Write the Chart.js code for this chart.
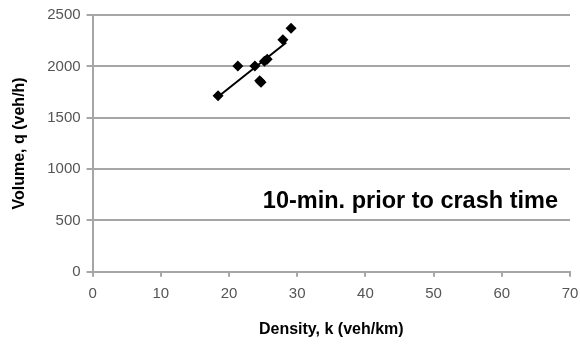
<!DOCTYPE html>
<html>
<head>
<meta charset="utf-8">
<script src="https://cdn.jsdelivr.net/npm/chart.js@4"></script>
<style>
  body { margin: 0; background: #fff; }
  #wrap { width: 580px; height: 347px; }
</style>
</head>
<body>
<div id="wrap"><canvas id="scatterChart" width="580" height="347"></canvas></div>
<script>
// observed points, density k (veh/km) vs volume q (veh/h)
const densityK = [18.4, 21.3, 23.8, 24.5, 24.7, 25.2, 25.6, 27.9, 29.1];
const volumeQ = [1715, 2003, 2003, 1860, 1845, 2050, 2070, 2260, 2370];

// linear trend line end points
const trendK = [18.4, 28.4];
const trendQ = [1705, 2232];

const xTicks = [0, 10, 20, 30, 40, 50, 60, 70];
const yTicks = [0, 500, 1000, 1500, 2000, 2500];

const noteText = "10-min. prior to crash time";

const notePlugin = {
  id: "note",
  afterDraw(chart) {
    const ctx = chart.ctx;
    const x = chart.scales.x.getPixelForValue(46.6);
    const y = chart.scales.y.getPixelForValue(680);
    ctx.save();
    ctx.font = "bold 23.5px 'Liberation Sans', Arial, sans-serif";
    ctx.fillStyle = "#000";
    ctx.textAlign = "center";
    ctx.textBaseline = "middle";
    ctx.fillText(noteText, x, y);
    ctx.restore();
  },
};

const ctx = document.getElementById("scatterChart").getContext("2d");
new Chart(ctx, {
  type: "scatter",
  data: {
    datasets: [
      {
        label: "Observed",
        data: densityK.map((k, i) => ({ x: k, y: volumeQ[i] })),
        pointStyle: "rectRot",
        pointRadius: 5.5,
        backgroundColor: "#000",
        borderColor: "#000",
        borderWidth: 0,
      },
      {
        label: "Trend",
        type: "line",
        data: trendK.map((k, i) => ({ x: k, y: trendQ[i] })),
        borderColor: "#000",
        borderWidth: 2,
        pointRadius: 0,
        fill: false,
      },
    ],
  },
  options: {
    responsive: false,
    animation: false,
    layout: { padding: { top: 5, right: 0, left: 6, bottom: 4 } },
    plugins: { legend: { display: false }, tooltip: { enabled: false } },
    scales: {
      x: {
        type: "linear",
        min: 0,
        max: 70,
        afterBuildTicks: (axis) => { axis.ticks = xTicks.map((v) => ({ value: v })); },
        afterFit: (axis) => { axis.paddingRight = 10; },
        grid: { drawOnChartArea: false, color: "#a6a6a6", lineWidth: 2, tickLength: 5 },
        border: { color: "#a6a6a6", width: 2 },
        ticks: { color: "#555", font: { family: "'Liberation Sans', Arial", size: 15 }, padding: 8 },
        title: {
          display: true,
          text: "Density, k (veh/km)",
          color: "#000",
          font: { family: "'Liberation Sans', Arial", size: 16, weight: "bold" },
          padding: { top: 9 },
        },
      },
      y: {
        type: "linear",
        min: 0,
        max: 2500,
        afterBuildTicks: (axis) => { axis.ticks = yTicks.map((v) => ({ value: v })); },
        grid: { color: "#a6a6a6", lineWidth: 2, tickLength: 6 },
        border: { color: "#a6a6a6", width: 2 },
        ticks: {
          color: "#555",
          font: { family: "'Liberation Sans', Arial", size: 15 },
          padding: 6,
          callback: (v) => String(v),
        },
        title: {
          display: true,
          text: "Volume, q (veh/h)",
          color: "#000",
          font: { family: "'Liberation Sans', Arial", size: 16, weight: "bold" },
          padding: { bottom: 12 },
        },
      },
    },
  },
  plugins: [notePlugin],
});
</script>
</body>
</html>
